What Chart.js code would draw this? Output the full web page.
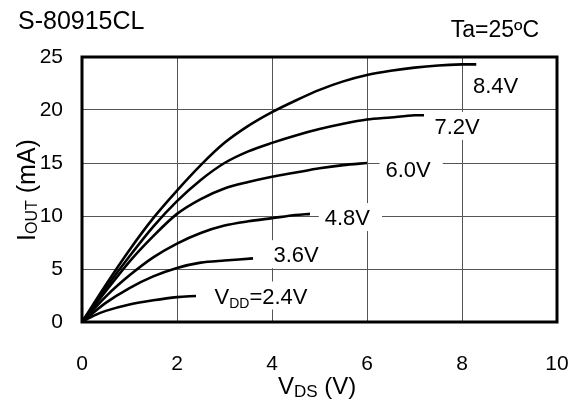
<!DOCTYPE html>
<html>
<head>
<meta charset="utf-8">
<script src="https://cdn.jsdelivr.net/npm/chart.js@4.4.1/dist/chart.umd.min.js"></script>
<style>
  html, body { margin: 0; padding: 0; background: #fff; }
  #wrap { width: 576px; height: 401px; }
</style>
</head>
<body>
<div id="wrap"><canvas id="chart" width="576" height="401"></canvas></div>
<script>
// S-80915CL  IOUT vs VDS, Ta=25C

const FONT = "'Liberation Sans', Arial, sans-serif";

// axis ticks
const xTicks = [0, 2, 4, 6, 8, 10];
const yTicks = [0, 5, 10, 15, 20, 25];

// curves (VDS in V, IOUT in mA)
const vds84 = [0, 0.5, 1, 1.5, 2, 2.5, 3, 3.5, 4, 4.5, 5, 5.5, 6, 6.5, 7, 7.5, 8, 8.3];
const iout84 = [0, 3.5, 6.8, 9.8, 12.4, 14.8, 16.9, 18.5, 19.8, 20.9, 21.9, 22.7, 23.3, 23.7, 24.0, 24.2, 24.3, 24.3];

const vds72 = [0, 0.5, 1, 1.5, 2, 2.5, 3, 3.5, 4, 4.5, 5, 5.5, 6, 6.5, 7, 7.2];
const iout72 = [0, 3.2, 6.2, 9.0, 11.4, 13.4, 15.0, 16.1, 16.9, 17.6, 18.2, 18.7, 19.1, 19.3, 19.5, 19.5];

const vds60 = [0, 0.5, 1, 1.5, 2, 2.5, 3, 3.5, 4, 4.5, 5, 5.5, 6];
const iout60 = [0, 2.9, 5.7, 8.1, 10.2, 11.6, 12.6, 13.2, 13.7, 14.1, 14.5, 14.8, 15.0];

const vds48 = [0, 0.5, 1, 1.5, 2, 2.5, 3, 3.5, 4, 4.5, 4.8];
const iout48 = [0, 2.4, 4.4, 6.1, 7.4, 8.4, 9.1, 9.5, 9.8, 10.1, 10.2];

const vds36 = [0, 0.5, 1, 1.5, 2, 2.5, 3, 3.6];
const iout36 = [0, 1.8, 3.2, 4.3, 5.1, 5.6, 5.8, 6.0];

const vds24 = [0, 0.25, 0.5, 1, 1.5, 2, 2.4];
const iout24 = [0, 0.6, 1.05, 1.65, 2.05, 2.35, 2.45];

// curve labels, anchored at (left of text, middle of text) in data units
const labelText = ['8.4V', '7.2V', '6.0V', '4.8V', '3.6V', 'VDD=2.4V'];
const labelX = [8.23, 7.42, 6.39, 5.11, 4.03, 2.79];
const labelY = [22.4, 18.5, 14.4, 9.9, 6.4, 2.5];

function pts(xs, ys) {
    return xs.map((x, i) => ({ x: x, y: ys[i] }));
}

function curve(xs, ys) {
    return {
        data: pts(xs, ys),
        showLine: true,
        borderColor: '#000',
        borderWidth: 2.6,
        pointRadius: 0,
        tension: 0.3,
        fill: false
    };
}

// text with subscripts: parts = [{t, size, dy}]
function drawRich(ctx, parts, x, y) {
    let cx = x;
    parts.forEach(p => {
        ctx.font = p.size + 'px ' + FONT;
        ctx.fillText(p.t, cx, y + (p.dy || 0));
        cx += ctx.measureText(p.t).width;
    });
    return cx - x;
}

function richWidth(ctx, parts) {
    let w = 0;
    parts.forEach(p => {
        ctx.font = p.size + 'px ' + FONT;
        w += ctx.measureText(p.t).width;
    });
    return w;
}

function labelParts(s) {
    if (s.startsWith('VDD')) {
        return [
            { t: 'V', size: 22 },
            { t: 'DD', size: 14, dy: 4 },
            { t: s.slice(3), size: 22 }
        ];
    }
    return [{ t: s, size: 22 }];
}

const decor = {
    id: 'decor',
    beforeDatasetsDraw(chart) {
        const ctx = chart.ctx;
        const xs = chart.scales.x, ys = chart.scales.y;
        ctx.save();
        ctx.textBaseline = 'alphabetic';
        labelText.forEach((s, i) => {
            const px = xs.getPixelForValue(labelX[i]);
            const py = ys.getPixelForValue(labelY[i]);
            const parts = labelParts(s);
            const w = richWidth(ctx, parts);
            ctx.fillStyle = '#fff';
            ctx.fillRect(px - 6, py - 14, w + 18, 28);
            ctx.fillStyle = '#000';
            drawRich(ctx, parts, px, py + 8);
        });
        ctx.restore();
    },
    afterDatasetsDraw(chart) {
        const ctx = chart.ctx;
        const a = chart.chartArea;
        ctx.save();
        ctx.strokeStyle = '#000';
        ctx.lineWidth = 3;
        ctx.strokeRect(a.left, a.top, a.right - a.left, a.bottom - a.top);
        ctx.restore();
    },
    afterDraw(chart) {
        const ctx = chart.ctx;
        ctx.save();
        ctx.fillStyle = '#000';
        ctx.textBaseline = 'alphabetic';

        // part number and temperature
        ctx.font = '25px ' + FONT;
        ctx.textAlign = 'left';
        ctx.fillText('S-80915CL', 18, 29);
        ctx.font = '23px ' + FONT;
        ctx.textAlign = 'right';
        ctx.fillText('Ta=25\u00baC', 539, 37);
        ctx.textAlign = 'left';

        // x axis title
        drawRich(ctx, [
            { t: 'V', size: 24 },
            { t: 'DS', size: 17, dy: 3 },
            { t: ' (V)', size: 24 }
        ], 278, 394);

        // y axis title, rotated
        const yParts = [
            { t: 'I', size: 25 },
            { t: 'OUT', size: 16, dy: 2 },
            { t: ' (mA)', size: 25 }
        ];
        const w = richWidth(ctx, yParts);
        ctx.translate(35, 190 + w / 2);
        ctx.rotate(-Math.PI / 2);
        drawRich(ctx, yParts, 0, 0);
        ctx.restore();
    }
};

new Chart(document.getElementById('chart'), {
    type: 'scatter',
    data: {
        datasets: [
            curve(vds84, iout84),
            curve(vds72, iout72),
            curve(vds60, iout60),
            curve(vds48, iout48),
            curve(vds36, iout36),
            curve(vds24, iout24)
        ]
    },
    options: {
        responsive: false,
        animation: false,
        layout: { padding: { left: 0, top: 57, right: 19, bottom: 0 } },
        plugins: {
            legend: { display: false },
            tooltip: { enabled: false }
        },
        scales: {
            x: {
                type: 'linear',
                min: 0,
                max: 10,
                afterFit: s => { s.height = 79; s.paddingLeft = 0; s.paddingRight = 0; },
                afterBuildTicks: s => { s.ticks = xTicks.map(v => ({ value: v })); },
                ticks: {
                    color: '#000',
                    padding: 30,
                    font: { family: FONT, size: 21 },
                    maxRotation: 0
                },
                grid: { color: '#555', lineWidth: 1, drawTicks: false },
                border: { display: false }
            },
            y: {
                type: 'linear',
                min: 0,
                max: 25,
                afterFit: s => { s.width = 82; s.paddingTop = 0; s.paddingBottom = 0; },
                afterBuildTicks: s => { s.ticks = yTicks.map(v => ({ value: v })); },
                ticks: {
                    color: '#000',
                    padding: 19,
                    font: { family: FONT, size: 21 }
                },
                grid: { color: '#555', lineWidth: 1, drawTicks: false },
                border: { display: false }
            }
        }
    },
    plugins: [decor]
});
</script>
</body>
</html>
